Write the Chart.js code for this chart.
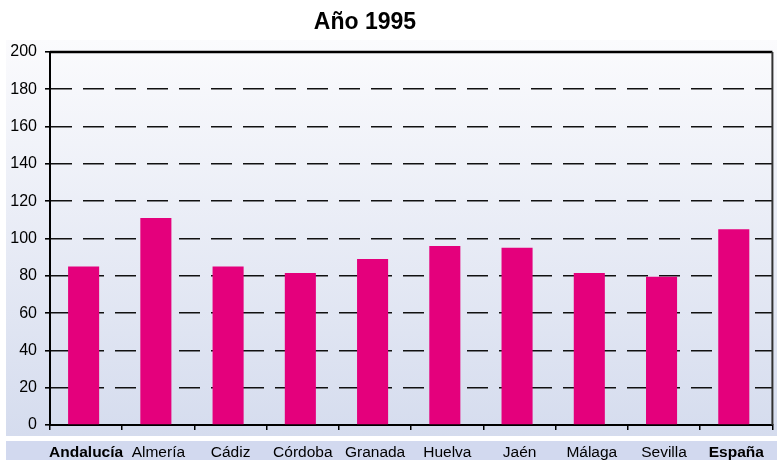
<!DOCTYPE html>
<html><head><meta charset="utf-8">
<script src="https://cdn.jsdelivr.net/npm/chart.js@4"></script>
<style>html,body{margin:0;padding:0;background:#fff}#wrap{width:777px;height:460px}</style>
</head><body><div id="wrap"><canvas id="c" width="777" height="460"></canvas></div>
<script>
const chartTitle = 'Año 1995';
const categories = ['Andalucía','Almería','Cádiz','Córdoba','Granada','Huelva','Jaén','Málaga','Sevilla','España'];
const values = [85, 111, 85, 81.5, 89, 96, 95, 81.5, 79.5, 105];
const boldCategories = ['Andalucía','España'];
const yMin = 0, yMax = 200, yStep = 20;

const FONT = "'Liberation Sans', Arial, sans-serif";

const decor = {
  id: 'decor',
  beforeDraw(chart) {
    const ctx = chart.ctx;
    ctx.save();
    const g = ctx.createLinearGradient(0, 40, 0, 436);
    g.addColorStop(0, '#fbfbfd');
    g.addColorStop(1, '#d5dcee');
    ctx.fillStyle = g;
    ctx.fillRect(6, 40, 771, 396);
    ctx.fillStyle = '#d2d9ef';
    ctx.fillRect(6, 441, 771, 19);
    ctx.fillStyle = '#000';
    ctx.font = 'bold 23px ' + FONT;
    ctx.textAlign = 'center';
    ctx.textBaseline = 'alphabetic';
    ctx.fillText(chartTitle, 365, 29);
    ctx.restore();
  },
  beforeDatasetsDraw(chart) {
    chart.ctx.save();
    chart.ctx.translate(-2.5, 0);
  },
  afterDatasetsDraw(chart) {
    chart.ctx.restore();
  },
  afterDraw(chart) {
    const ctx = chart.ctx, a = chart.chartArea;
    ctx.save();
    ctx.strokeStyle = '#000';
    ctx.lineWidth = 2.5;
    ctx.beginPath();
    ctx.moveTo(a.left, a.top);
    ctx.lineTo(a.right, a.top);
    ctx.stroke();
    ctx.strokeStyle = '#333';
    ctx.lineWidth = 2;
    ctx.beginPath();
    ctx.moveTo(a.right, a.top);
    ctx.lineTo(a.right, a.bottom);
    ctx.stroke();
    ctx.restore();
  }
};

new Chart(document.getElementById('c'), {
  type: 'bar',
  data: {
    labels: categories,
    datasets: [{
      data: values,
      backgroundColor: '#e4007c',
      borderWidth: 0,
      categoryPercentage: 1,
      barPercentage: 0.43
    }]
  },
  options: {
    responsive: false,
    animation: false,
    devicePixelRatio: 1,
    layout: { padding: { top: 52, right: 3, left: 0, bottom: 0 } },
    plugins: { legend: { display: false }, title: { display: false }, tooltip: { enabled: false } },
    scales: {
      x: {
        afterFit(s) { s.height = 35; },
        grid: { display: true, drawOnChartArea: false, drawTicks: true, tickLength: 5, color: '#000', lineWidth: 1.5, offset: true },
        border: { display: true, color: '#000', width: 2 },
        ticks: {
          color: '#000',
          padding: 13,
          maxRotation: 0,
          autoSkip: false,
          font: (c) => ({ family: FONT, size: 15.5, weight: boldCategories.includes(categories[c.index]) ? 'bold' : 'normal' })
        }
      },
      y: {
        min: yMin, max: yMax,
        afterFit(s) { s.width = 50; },
        grid: {
          color: (c) => (c.tick && (c.tick.value === yMin || c.tick.value === yMax)) ? 'rgba(0,0,0,0)' : '#111',
          lineWidth: 1.6,
          tickColor: '#000',
          tickLength: 5,
          drawTicks: true
        },
        border: { display: true, color: '#000', width: 2, dash: [21, 11] },
        ticks: { stepSize: yStep, color: '#000', padding: 8, font: { family: FONT, size: 16 } }
      }
    }
  },
  plugins: [decor]
});
</script>
</body></html>
